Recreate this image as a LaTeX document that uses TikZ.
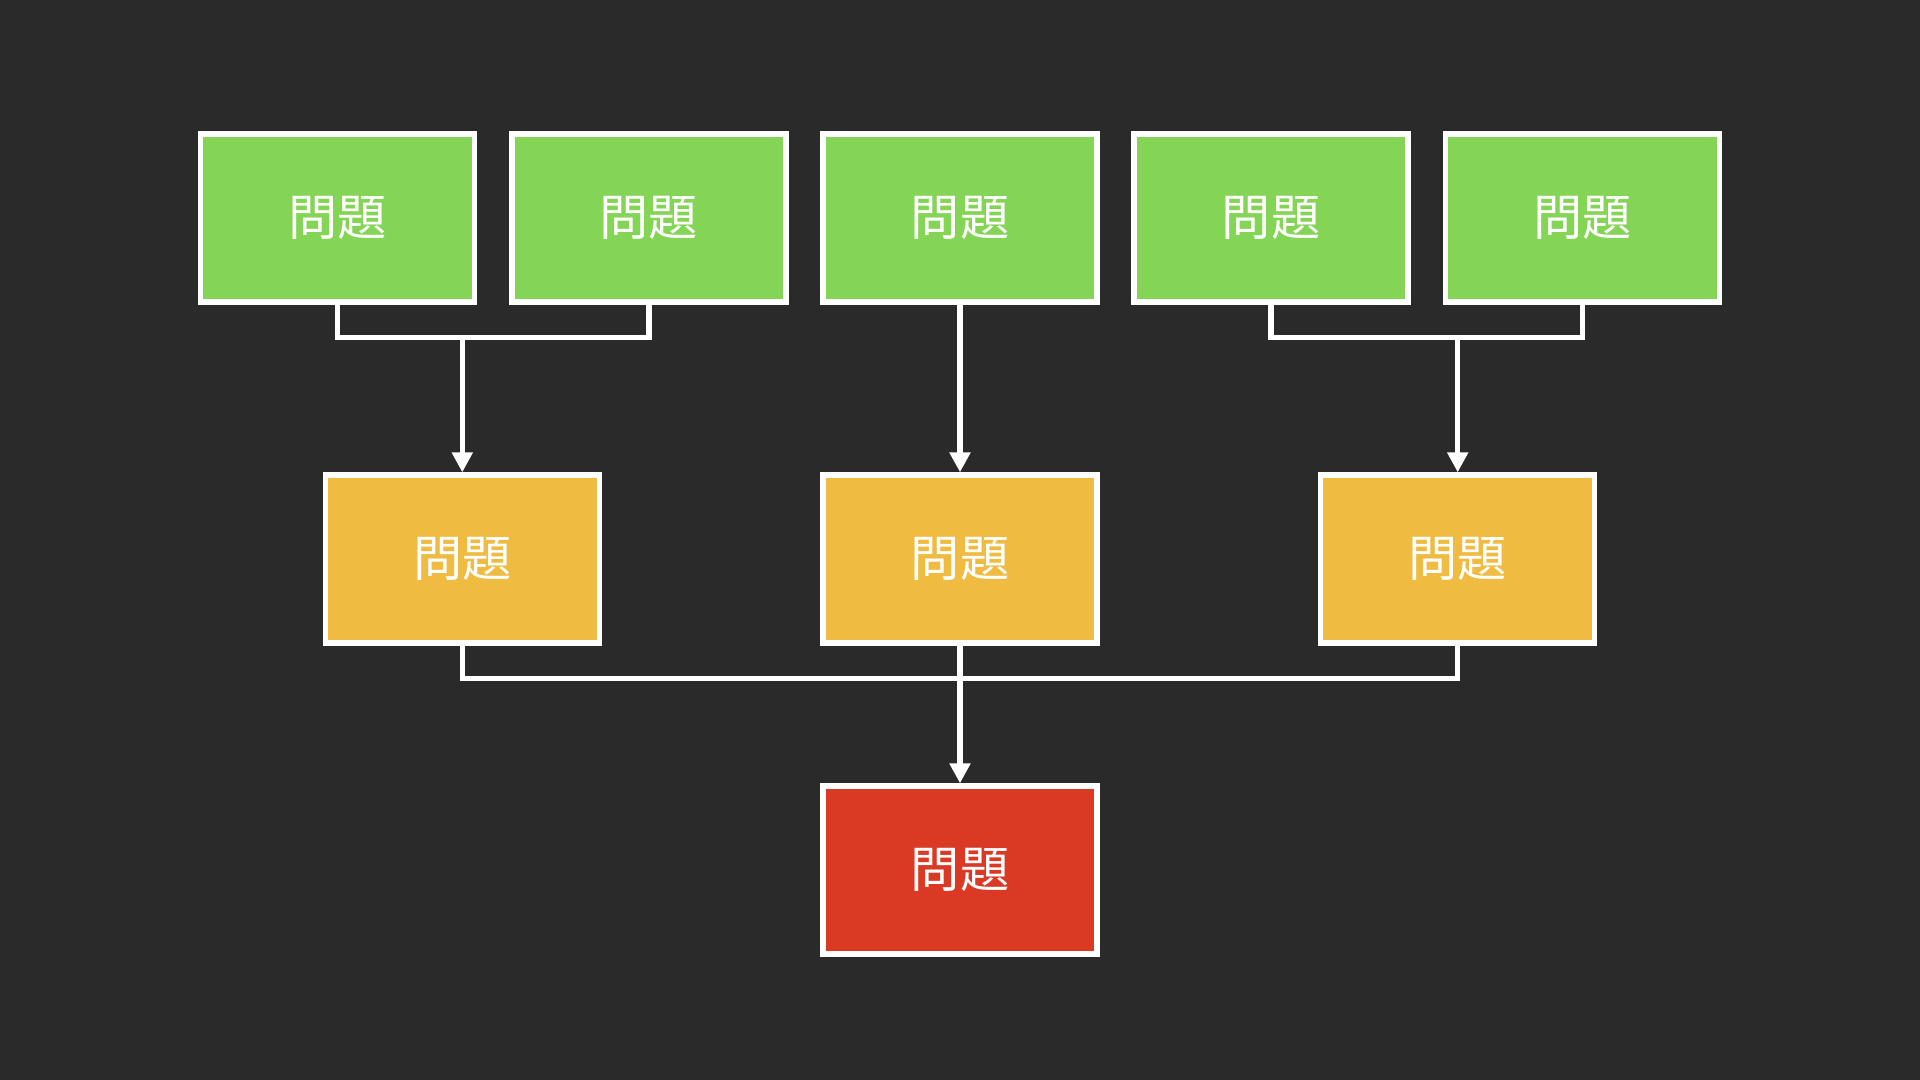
\documentclass[tikz,border=0pt]{standalone}
\usepackage{fontspec}
\newfontfamily\cjk{Noto Sans CJK JP}
\usetikzlibrary{calc}
\usetikzlibrary{arrows.meta}

\definecolor{bgdark}{HTML}{2A2A2A}
\definecolor{leafgreen}{HTML}{84D455}
\definecolor{midyellow}{HTML}{EFBB40}
\definecolor{rootred}{HTML}{DA3A24}

\begin{document}
\begin{tikzpicture}[
  box/.style={draw=white, line width=1.5pt, minimum width=2.74cm, minimum height=1.68cm,
    inner sep=0pt, text=white, font=\cjk\fontsize{14pt}{16pt}\selectfont},
  link/.style={draw=white, line width=1.5pt},
  arr/.style={link, -{Triangle[width=2mm,length=2mm]}}
]
\fill[bgdark] (0,0) rectangle (19.2,10.8);
\useasboundingbox (0,0) rectangle (19.2,10.8);

% top row
\node[box, fill=leafgreen] (p1) at (3.376,8.62) {問題};
\node[box, fill=leafgreen] (p2) at (6.489,8.62) {問題};
\node[box, fill=leafgreen] (p3) at (9.6,8.62) {問題};
\node[box, fill=leafgreen] (p4) at (12.711,8.62) {問題};
\node[box, fill=leafgreen] (p5) at (15.824,8.62) {問題};

% middle row
\node[box, fill=midyellow] (m1) at (4.623,5.21) {問題};
\node[box, fill=midyellow] (m2) at (9.6,5.21) {問題};
\node[box, fill=midyellow] (m3) at (14.577,5.21) {問題};

% bottom
\node[box, fill=rootred] (r) at (9.6,2.10) {問題};

\coordinate (j1) at (4.623,7.427);
\coordinate (j2) at (14.577,7.427);
\coordinate (j3) at (9.6,4.017);

\draw[link] (p1.south) |- (j1) -| (p2.south);
\draw[arr] (j1) -- (m1.north);
\draw[arr] (p3.south) -- (m2.north);
\draw[link] (p4.south) |- (j2) -| (p5.south);
\draw[arr] (j2) -- (m3.north);

\draw[link] (m1.south) |- (j3) -| (m3.south);
\draw[arr] (m2.south) -- (r.north);
\end{tikzpicture}
\end{document}
